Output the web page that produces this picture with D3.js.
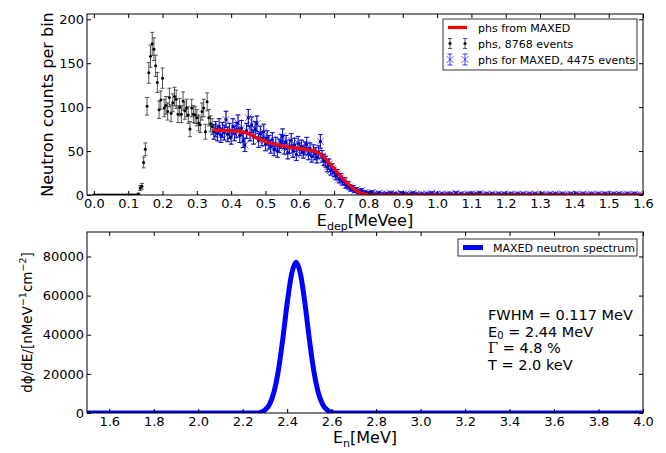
<!DOCTYPE html>
<html><head><meta charset="utf-8">
<script src="https://cdn.jsdelivr.net/npm/d3@7"></script>
<style>body{margin:0;background:#fff} text{font-family:"DejaVu Sans",sans-serif;fill:#000}</style>
</head><body><svg id="c" width="666" height="453" xmlns="http://www.w3.org/2000/svg"></svg>
<script>
// ---------------- data ----------------
const binWidth = 0.005;            // MeVee per bin, bins start at 0.000
const phsCounts = [
  // 0.000 - 0.125
  0,0,0,0,0,0,0,0,0,0, 0,0,0,0,0,0,0,0,0,0, 0,0,0,0,0,0,
  // 0.130 - 0.345
  1,8,10,37,52,101,139,158,172,166, 147,128,97,108,133,99,102,95,111,93,
  105,112,109,92,100,92,107,96,99,91, 75,99,92,91,88,82,80,95,99,72, 106,88,81,78,
  // 0.350 - 0.850
  72,75,70,78,68,74,71,86,69,73, 66,78,70,74,82,68,76,62,57,73,
  88,70,80,66,75,81,62,70,64,72, 58,65,60,55,63,52,58,50,56,61,
  67,54,60,48,55,62,50,57,46,59, 52,55,49,53,58,47,52,44,50,47,
  43,49,61,44,40,38,32,35,28,30, 26,22,24,18,20,15,16,11,12,9,
  7,8,5,6,4,3,5,2,3,1, 2,1,3,1,0,1,2,0,1,0, 1,
  // 0.855 - 1.595
  1,0,2,0,1,1,0,0,2,1, 0,1,0,0,1,2,0,1,0,0, 1,0,0,1,0,1,2,0,0,1,
  0,0,1,0,0,1,0,1,0,0, 2,0,0,1,0,0,0,1,0,1, 0,0,1,0,2,0,0,0,1,0,
  0,1,0,0,0,1,0,0,1,0, 0,0,1,0,0,0,1,0,0,1, 0,0,0,1,0,0,1,0,0,0,
  1,0,0,0,0,1,0,0,1,0, 0,0,1,0,0,0,0,1,0,0, 1,0,0,0,1,0,0,0,0,1,
  0,0,0,1,0,0,0,1,0,0, 0,0,1,0,0,1,0,0,0,0, 1,0,0,0,1,0,0,0,0
];
const maxedFrom = 0.35;           // start of the subset used for MAXED
const maxedX = [0.35,0.375,0.40,0.425,0.45,0.475,0.50,0.525,0.55,0.575,0.60,0.625,0.65,0.665,0.68,0.70,0.72,0.74,0.76,0.78,0.80,0.82,1.0,1.2,1.4,1.6];
const maxedY = [74,73.5,73,72.5,70,65,61,58,56,54,53,51.5,49,45,39,30,21,13,6,2,0.3,0,0,0,0,0];

const specX = [1.5,2.0,2.26,2.28,2.30,2.32,2.34,2.36,2.38,2.40,2.42,2.44,2.46,2.48,2.50,2.52,2.54,2.56,2.58,2.60,2.62,3.0,4.0];
const specY = [0,0,0,300,1500,4300,10400,21400,37500,56000,71000,77000,71000,56000,37500,21400,10400,4300,1500,300,0,0,0];

const topXTicks = [0,0.1,0.2,0.3,0.4,0.5,0.6,0.7,0.8,0.9,1.0,1.1,1.2,1.3,1.4,1.5,1.6];
const topYTicks = [0,50,100,150,200];
const botXTicks = [1.6,1.8,2.0,2.2,2.4,2.6,2.8,3.0,3.2,3.4,3.6,3.8,4.0];
const botYTicks = [0,20000,40000,60000,80000];

const legendTop = ["phs from MAXED","phs, 8768 events","phs for MAXED, 4475 events"];
const legendBot = ["MAXED neutron spectrum"];
const annot = {fwhm:"FWHM = 0.117 MeV", e0:" = 2.44 MeV", gam:" = 4.8 %", t:"T = 2.0 keV"};

// ---------------- layout ----------------
const svg = d3.select("#c");
const L = 87, R = 643;
const xT = d3.scaleLinear([-0.02, 1.6], [L, R]);
const yT = d3.scaleLinear([0, 206], [195, 14]);
const xB = d3.scaleLinear([1.5, 4.0], [L, R]);
const yB = d3.scaleLinear([0, 92500], [413, 232]);

const defs = svg.append("defs");
function clip(id, x, y){
  defs.append("clipPath").attr("id", id).append("rect")
    .attr("x", x.range()[0]).attr("y", y.range()[1])
    .attr("width", x.range()[1]-x.range()[0]).attr("height", y.range()[0]-y.range()[1]);
}
clip("ct", xT, yT); clip("cb", xB, yB);

function frame(x, y, xt, yt, xf, yf){
  const g = svg.append("g");
  const y0 = y.range()[0], y1 = y.range()[1], x0 = x.range()[0], x1 = x.range()[1];
  const none = () => "";
  const style = s => { s.select(".domain").remove(); s.selectAll("line").attr("stroke","#000");
    s.selectAll("text").attr("font-size", 13).attr("font-family","DejaVu Sans"); s.attr("font-family",null).attr("font-size",null); };
  g.append("g").attr("transform",`translate(0,${y0})`).call(d3.axisBottom(x).tickValues(xt).tickFormat(xf).tickSizeInner(-4).tickSizeOuter(0).tickPadding(4)).call(style);
  g.append("g").attr("transform",`translate(0,${y1})`).call(d3.axisTop(x).tickValues(xt).tickFormat(none).tickSizeInner(-4).tickSizeOuter(0)).call(style);
  g.append("g").attr("transform",`translate(${x0},0)`).call(d3.axisLeft(y).tickValues(yt).tickFormat(yf).tickSizeInner(-4).tickSizeOuter(0).tickPadding(3)).call(style);
  g.append("g").attr("transform",`translate(${x1},0)`).call(d3.axisRight(y).tickValues(yt).tickFormat(none).tickSizeInner(-4).tickSizeOuter(0)).call(style);
  g.append("rect").attr("x",x0).attr("y",y1).attr("width",x1-x0).attr("height",y0-y1)
    .attr("fill","none").attr("stroke","#000").attr("stroke-width",1);
}

// ---------------- top panel ----------------
const pts = phsCounts.map((c,i) => ({x: i*binWidth, c, e: Math.sqrt(c)}));
const gT = svg.append("g").attr("clip-path","url(#ct)");

function errbar(g, x, y, cx, lo, hi, color, capW, opacity){
  g.append("line").attr("x1",x(cx)).attr("x2",x(cx)).attr("y1",y(lo)).attr("y2",y(hi))
    .attr("stroke",color).attr("stroke-width",1).attr("opacity",opacity);
  [lo,hi].forEach(v => g.append("line").attr("x1",x(cx)-capW).attr("x2",x(cx)+capW)
    .attr("y1",y(v)).attr("y2",y(v)).attr("stroke",color).attr("stroke-width",1).attr("opacity",opacity));
}
// black series
pts.forEach(p => errbar(gT, xT, yT, p.x, p.c-p.e, p.c+p.e, "#3a3a3a", 2, 0.85));
pts.forEach(p => gT.append("circle").attr("cx",xT(p.x)).attr("cy",yT(p.c)).attr("r",1.5).attr("fill","#000"));
// blue subset
const sub = pts.filter(p => p.x >= maxedFrom - 1e-9);
sub.forEach(p => errbar(gT, xT, yT, p.x, p.c-p.e, p.c+p.e, "#0000ff", 2.5, 0.75));
const xm = (g, cx, cy, s) => {
  g.append("path").attr("d",`M${cx-s},${cy-s}L${cx+s},${cy+s}M${cx-s},${cy+s}L${cx+s},${cy-s}`)
   .attr("stroke","#0000ff").attr("stroke-width",1).attr("opacity",0.6).attr("fill","none");
};
sub.forEach(p => xm(gT, xT(p.x), yT(p.c), 3.5));
// MAXED red curve
gT.append("path").datum(maxedX.map((x,i)=>[x,maxedY[i]]))
  .attr("d", d3.line().x(d=>xT(d[0])).y(d=>yT(d[1])).curve(d3.curveMonotoneX))
  .attr("fill","none").attr("stroke","#ff0000").attr("stroke-width",3.2);

frame(xT, yT, topXTicks, topYTicks, d3.format(".1f"), d3.format("d"));

// top labels
svg.append("text").attr("transform",`translate(47,${(195+14)/2}) rotate(-90)`)
  .attr("text-anchor","middle").attr("dominant-baseline","central").attr("font-size",16).text("Neutron counts per bin");
const xl1 = svg.append("text").attr("x",(L+R)/2).attr("y",225.5).attr("text-anchor","middle").attr("font-size",16);
xl1.append("tspan").text("E");
xl1.append("tspan").attr("font-size",11).attr("dy",4).text("dep");
xl1.append("tspan").attr("dy",-4).text("[MeVee]");

// top legend
const lg = svg.append("g");
lg.append("rect").attr("x",443).attr("y",19).attr("width",194).attr("height",51)
  .attr("fill","#fff").attr("stroke","#000").attr("stroke-width",0.8);
lg.append("line").attr("x1",448).attr("x2",467).attr("y1",27.5).attr("y2",27.5).attr("stroke","#ff0000").attr("stroke-width",3.2);
[450,465].forEach(cx => {
  const s = d3.scaleLinear([0,1],[0,1]);
  errbar(lg, s, s, cx, 38.5, 48.5, "#3a3a3a", 2, 0.85);
  lg.append("circle").attr("cx",cx).attr("cy",43.5).attr("r",1.5).attr("fill","#000");
  errbar(lg, s, s, cx, 54, 65, "#0000ff", 2.5, 0.75);
  xm(lg, cx, 59.5, 3.5);
});
legendTop.forEach((t,i) => lg.append("text").attr("x",478).attr("y",31.5+i*16).attr("font-size",11).text(t));

// ---------------- bottom panel ----------------
const gB = svg.append("g").attr("clip-path","url(#cb)");
gB.append("path").datum(specX.map((x,i)=>[x,specY[i]]))
  .attr("d", d3.line().x(d=>xB(d[0])).y(d=>yB(d[1])).curve(d3.curveMonotoneX))
  .attr("fill","none").attr("stroke","#0000ff").attr("stroke-width",5).attr("stroke-linejoin","round");

frame(xB, yB, botXTicks, botYTicks, d3.format(".1f"), d3.format("d"));

const yl2 = svg.append("text").attr("transform",`translate(27,${(413+232)/2}) rotate(-90)`)
  .attr("text-anchor","middle").attr("dominant-baseline","central").attr("font-size",13.5);
yl2.append("tspan").text("d\u03D5/dE/[nMeV");
yl2.append("tspan").attr("font-size",9.5).attr("dy",-5).text("\u22121");
yl2.append("tspan").attr("dy",5).text("cm");
yl2.append("tspan").attr("font-size",9.5).attr("dy",-5).text("\u22122");
yl2.append("tspan").attr("dy",5).text("]");

const xl2 = svg.append("text").attr("x",(L+R)/2).attr("y",443).attr("text-anchor","middle").attr("font-size",16);
xl2.append("tspan").text("E");
xl2.append("tspan").attr("font-size",11).attr("dy",4).text("n");
xl2.append("tspan").attr("dy",-4).text("[MeV]");

// bottom legend
const lb = svg.append("g");
lb.append("rect").attr("x",458).attr("y",239).attr("width",179).attr("height",17)
  .attr("fill","#fff").attr("stroke","#000").attr("stroke-width",0.8);
lb.append("line").attr("x1",463).attr("x2",483).attr("y1",247.5).attr("y2",247.5).attr("stroke","#0000ff").attr("stroke-width",5);
lb.append("text").attr("x",493).attr("y",251.5).attr("font-size",11).text(legendBot[0]);

// annotations (spaced so lines do not collide)
const ax = 488, fs = 14.5;
svg.append("text").attr("x",ax).attr("y",320).attr("font-size",fs).text(annot.fwhm);
const e0 = svg.append("text").attr("x",ax).attr("y",336.5).attr("font-size",fs);
e0.append("tspan").text("E");
e0.append("tspan").attr("font-size",10).attr("dy",2).text("0");
e0.append("tspan").attr("dy",-2).text(annot.e0);
const gm = svg.append("text").attr("x",ax).attr("y",353).attr("font-size",fs);
gm.append("tspan").attr("font-family","DejaVu Serif").text("\u0393");
gm.append("tspan").text(annot.gam);
svg.append("text").attr("x",ax).attr("y",369.5).attr("font-size",fs).text(annot.t);
</script></body></html>
